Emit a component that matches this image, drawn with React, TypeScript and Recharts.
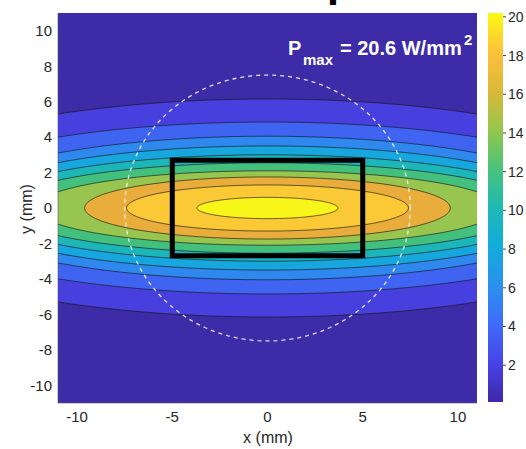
import React from 'react';
import { ComposedChart, Area, Line, XAxis, YAxis, BarChart, Bar } from 'recharts';

// axis ticks
const xTicks = [-10, -5, 0, 5, 10];
const yTicks = [-10, -8, -6, -4, -2, 0, 2, 4, 6, 8, 10];
const cbTicks = [2, 4, 6, 8, 10, 12, 14, 16, 18, 20];
const cbRange = [0.1, 20.2];
const axisLimit = 11;

// filled contour ellipses, outermost first (mm)
const contourHalfWidth = [21.7, 19.4, 17.1, 16.1, 15.1, 13.9, 12.2, 9.6, 7.4, 3.7];
const contourHalfHeight = [6.15, 4.85, 4.05, 3.5, 3.0, 2.55, 2.1, 1.75, 1.3, 0.6];
// band colours, background first
const bandColors = [
  '#3e2ba8', '#4740df', '#3f64f2', '#2f88ee', '#17a6de', '#1db6b8',
  '#44c07e', '#97c54f', '#e8ad3a', '#fbc935', '#f8f51a',
];

// sample window and laser spot
const boxX = [-5, 5];
const boxY = [-2.7, 2.7];
const spotRadius = 7.5;
const pMax = 20.6;

const parulaStops = [
  '#3e26a8', '#4743e8', '#3f6cf9', '#2b91ee', '#12abdb', '#1eb9b3',
  '#49c37a', '#96c64c', '#dcb839', '#fcc13b', '#f9fb14',
];

const FONT = "'Liberation Sans', Arial, Helvetica, sans-serif";
const TXT = '#262626';

const buildEllipse = (a: number, b: number) => {
  const t0 = a > axisLimit ? Math.acos(axisLimit / a) : 0;
  const n = 90;
  const pts: { x: number; band: number[] }[] = [];
  for (let i = 0; i <= n; i++) {
    const t = Math.PI - t0 - ((Math.PI - 2 * t0) * i) / n;
    const h = b * Math.sin(t);
    pts.push({ x: a * Math.cos(t), band: [-h, h] });
  }
  return pts;
};

const bgData = [
  { x: -axisLimit, band: [-axisLimit, axisLimit] },
  { x: axisLimit, band: [-axisLimit, axisLimit] },
];

const contours = contourHalfWidth.map((a, i) => buildEllipse(a, contourHalfHeight[i]));

const circleData = Array.from({ length: 181 }, (_, i) => {
  const t = (2 * Math.PI * i) / 180;
  return { x: spotRadius * Math.cos(t), y: spotRadius * Math.sin(t) };
});

const boxData = [
  [0, 0], [0, 1], [1, 1], [1, 0], [0, 0],
].map(([i, j]) => ({ x: boxX[i], y: boxY[j] }));

const tickStyle = { fill: TXT, fontSize: 15, fontFamily: FONT };

export default function App() {
  return (
    <div style={{ position: 'absolute', left: 0, top: 0, width: 526, height: 449, background: '#fff', fontFamily: FONT }}>
      <ComposedChart width={526} height={449} margin={{ top: 13, right: 49, bottom: 0, left: 0 }}>
        <XAxis
          type="number"
          dataKey="x"
          domain={[-axisLimit, axisLimit]}
          ticks={xTicks}
          allowDataOverflow
          height={46}
          tickLine={false}
          tickMargin={2}
          axisLine={{ stroke: '#555', strokeWidth: 0.6 }}
          tick={tickStyle}
        />
        <YAxis
          type="number"
          domain={[-axisLimit, axisLimit]}
          ticks={yTicks}
          allowDataOverflow
          width={58}
          tickLine={false}
          tickMargin={0}
          axisLine={{ stroke: '#555', strokeWidth: 0.6 }}
          tick={tickStyle}
        />
        <Area
          data={bgData}
          dataKey="band"
          type="linear"
          stroke="none"
          fill={bandColors[0]}
          fillOpacity={1}
          isAnimationActive={false}
          dot={false}
          activeDot={false}
        />
        {contours.map((pts, i) => (
          <Area
            key={i}
            data={pts}
            dataKey="band"
            type="linear"
            stroke="#151515"
            strokeWidth={0.8}
            strokeOpacity={0.8}
            fill={bandColors[i + 1]}
            fillOpacity={1}
            isAnimationActive={false}
            dot={false}
            activeDot={false}
          />
        ))}
        <Line
          data={circleData}
          dataKey="y"
          type="linear"
          stroke="#ffffff"
          strokeOpacity={0.85}
          strokeWidth={1.3}
          strokeDasharray="4 4"
          dot={false}
          activeDot={false}
          isAnimationActive={false}
        />
        <Line
          data={boxData}
          dataKey="y"
          type="linear"
          stroke="#000"
          strokeWidth={5}
          strokeLinejoin="miter"
          strokeLinecap="square"
          dot={false}
          activeDot={false}
          isAnimationActive={false}
        />
      </ComposedChart>

      <div style={{ position: 'absolute', left: 480, top: 0 }}>
        <BarChart
          width={46}
          height={449}
          data={[{ k: 'cb', range: cbRange }]}
          margin={{ top: 13, right: 0, bottom: 47, left: 8 }}
          barCategoryGap={0}
        >
          <defs>
            <linearGradient id="parula" x1="0" y1="1" x2="0" y2="0">
              {parulaStops.map((c, i) => (
                <stop key={i} offset={i / (parulaStops.length - 1)} stopColor={c} />
              ))}
            </linearGradient>
          </defs>
          <XAxis dataKey="k" hide />
          <YAxis
            orientation="right"
            type="number"
            domain={cbRange}
            ticks={cbTicks}
            allowDataOverflow
            width={23}
            tickSize={3}
            tickMargin={2}
            axisLine={false}
            tickLine={{ stroke: '#444' }}
            tick={{ fill: TXT, fontSize: 14, fontFamily: FONT }}
          />
          <Bar dataKey="range" fill="url(#parula)" isAnimationActive={false} />
        </BarChart>
      </div>

      <svg
        width={526}
        height={449}
        style={{ position: 'absolute', left: 0, top: 0, pointerEvents: 'none', overflow: 'hidden' }}
      >
        <text x={274} y={-4} fontFamily="'Liberation Mono', monospace" fontWeight="bold" fontSize={44} fill="#000">
          Top
        </text>
        <text fontFamily={FONT} fontWeight="bold" fill="#fff">
          <tspan x={288} y={55} fontSize={20}>P</tspan>
          <tspan x={303} y={65} fontSize={15}>max</tspan>
          <tspan x={340} y={55} fontSize={20}>{`= ${pMax} W/mm`}</tspan>
          <tspan x={464} y={45} fontSize={15}>2</tspan>
        </text>
        <text x={268} y={443} textAnchor="middle" fontFamily={FONT} fontSize={16} fill={TXT}>
          x (mm)
        </text>
        <text
          x={26}
          y={209}
          textAnchor="middle"
          dominantBaseline="central"
          transform="rotate(-90, 26, 209)"
          fontFamily={FONT}
          fontSize={16}
          fill={TXT}
        >
          y (mm)
        </text>
      </svg>
    </div>
  );
}
